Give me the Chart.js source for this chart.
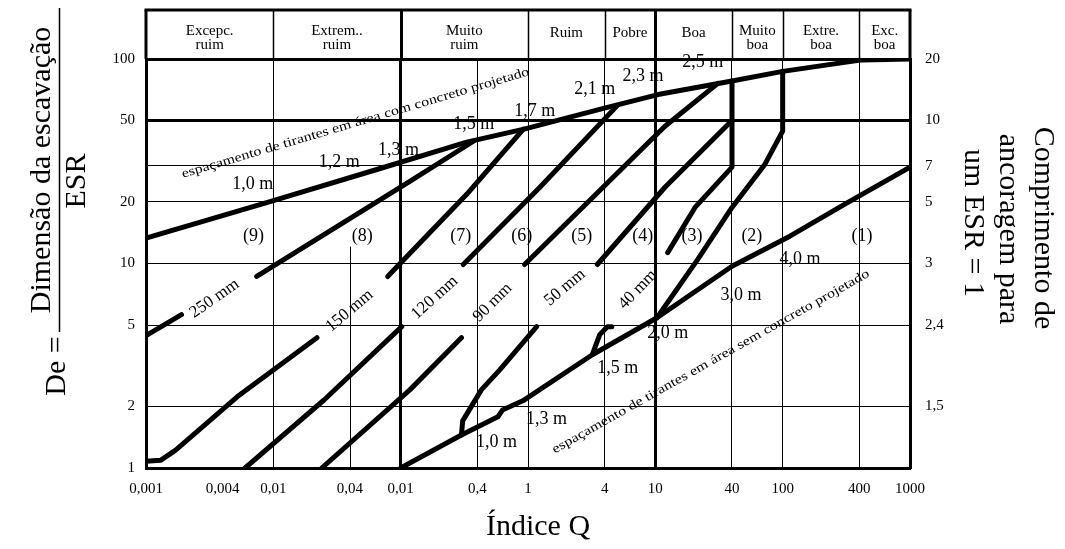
<!DOCTYPE html>
<html>
<head>
<meta charset="utf-8">
<script src="https://cdn.jsdelivr.net/npm/chart.js@4.4.1/dist/chart.umd.min.js"></script>
<style>
  html, body { margin: 0; padding: 0; background: #fff; }
  #wrap { width: 1065px; height: 549px; position: relative; }
</style>
</head>
<body>
<div id="wrap"><canvas id="chart"></canvas></div>
<script>
// Q-system support chart: Índice Q versus equivalent dimension De

const FONT = "'Liberation Serif', 'Times New Roman', serif";

// Axis ticks and labels
const qTicks = [0.001, 0.004, 0.01, 0.04, 0.1, 0.4, 1, 4, 10, 40, 100, 400, 1000];
const qTickLabels = ['0,001', '0,004', '0,01', '0,04', '0,01', '0,4', '1', '4', '10', '40', '100', '400', '1000'];
const deTicks = [1, 2, 5, 10, 20, 30, 50, 100];
const deTickLabels = ['1', '2', '5', '10', '20', '', '50', '100'];
const anchorTicks = [2, 5, 10, 20, 30, 50, 100];
const anchorLabels = ['1,5', '2,4', '3', '5', '7', '10', '20'];

// Rock mass classes along the Q axis
const classBounds = [0.001, 0.01, 0.1, 1, 4, 10, 40, 100, 400, 1000];
const classNames = [['Excepc.', 'ruim'], ['Extrem..', 'ruim'], ['Muito', 'ruim'], ['Ruim'], ['Pobre'],
                    ['Boa'], ['Muito', 'boa'], ['Extre.', 'boa'], ['Exc.', 'boa']];

// Bolt spacing limits [Q, De]
const boltLimitShotcrete = [[0.001, 13.3], [0.009, 19.9], [0.066, 28.9], [0.33, 39.2], [0.93, 45.4],
                            [4.2, 58], [10.5, 67], [40, 78], [100, 87], [420, 99], [1000, 100]];
const boltLimitNoShotcrete = [[0.1, 1], [0.3, 1.45], [0.58, 1.78], [0.63, 1.92], [0.91, 2.13], [3.2, 3.58],
                              [10.3, 5.43], [40, 9.7], [114, 13.6], [308, 19.5], [1000, 29.6]];

// Shotcrete thickness boundaries [Q, De], each drawn in two pieces around its label
const sc250Low = [[0.001, 4.44], [0.0019, 5.62]];
const sc250High = [[0.0074, 8.64], [0.118, 25.2], [0.37, 39.5]];
const sc150Low = [[0.001, 1.08], [0.0013, 1.09], [0.0017, 1.22], [0.0052, 2.23], [0.022, 4.34]];
const sc150High = [[0.079, 8.64], [0.33, 21.8], [0.92, 45.4]];
const sc120Low = [[0.006, 1], [0.025, 2.15], [0.102, 4.91]];
const sc120High = [[0.31, 9.89], [1.24, 23.6], [5.0, 59]];
const sc90Low = [[0.024, 1], [0.118, 2.41], [0.30, 4.34]];
const sc90High = [[0.94, 9.89], [11.9, 46.9], [31, 76]];
const sc50Low = [[0.30, 1.45], [0.307, 1.7], [0.43, 2.41], [0.60, 3.02], [1.17, 4.91]];
const sc50High = [[3.5, 9.89], [11.9, 23.6], [40, 50]];
const sc40Low = [[3.2, 3.58], [3.66, 4.49], [4.2, 4.91], [4.55, 4.91]];
const sc40High = [[10.3, 5.43], [21.6, 10.5], [40, 18.8], [72.6, 30.6], [100, 44.4], [100, 87]];
const zone3Limit = [[12.5, 11.3], [20.5, 18.8], [40, 29.6], [40, 78]];

const curves = [boltLimitShotcrete, boltLimitNoShotcrete, sc250Low, sc250High, sc150Low, sc150High,
                sc120Low, sc120High, sc90Low, sc90High, sc50Low, sc50High, sc40Low, sc40High, zone3Limit];

// Support categories (1)-(9)
const zoneNames = ['(9)', '(8)', '(7)', '(6)', '(5)', '(4)', '(3)', '(2)', '(1)'];
const zoneQ = [0.007, 0.05, 0.297, 0.893, 2.64, 7.98, 19.4, 57.3, 420];
const zoneDe = 13.6;

// Bolt length labels [Q, De]
const boltLengthsUpper = ['1,0 m', '1,2 m', '1,3 m', '1,5 m', '1,7 m', '2,1 m', '2,3 m', '2,5 m'];
const boltLengthsUpperAt = [[0.0069, 24.4], [0.033, 31.3], [0.096, 35.8], [0.375, 48], [1.13, 55.6],
                            [3.35, 71.3], [8.0, 82.6], [23.6, 96.7]];
const boltLengthsLower = ['1,0 m', '1,3 m', '1,5 m', '2,0 m', '3,0 m', '4,0 m'];
const boltLengthsLowerAt = [[0.567, 1.33], [1.40, 1.74], [5.07, 3.06], [12.5, 4.54], [47, 6.97], [137, 10.5]];

// Shotcrete thickness labels [Q, De, angle]
const shotcreteLabels = ['250 mm', '150 mm', '120 mm', '90 mm', '50 mm', '40 mm'];
const shotcreteAt = [[0.00345, 6.74, -35], [0.0397, 5.88, -40], [0.185, 6.81, -42],
                     [0.528, 6.44, -45], [1.95, 7.63, -40], [7.28, 7.46, -46]];

// Captions along the bolt spacing limits [Q, De, angle]
const spacingCaptions = ['espaçamento de tirantes em área com concreto projetado',
                         'espaçamento de tirantes em área sem concreto projetado'];
const spacingCaptionsAt = [[0.0442, 48.6, -16.5], [27.3, 3.31, -29.4]];

const gridPartialQ = 0.04;     // vertical line only drawn below De = 12
const gridPartialTop = 12.1;

function putText(ctx, txt, px, py, size, angle, fitWidth) {
  ctx.save();
  ctx.translate(px, py);
  ctx.rotate((angle || 0) * Math.PI / 180);
  ctx.font = size + 'px ' + FONT;
  ctx.fillStyle = '#000';
  ctx.textAlign = 'center';
  ctx.textBaseline = 'middle';
  if (fitWidth) {
    const w = ctx.measureText(txt).width;
    ctx.scale(fitWidth / w, 1);
  }
  ctx.fillText(txt, 0, 0);
  ctx.restore();
}

function line(ctx, x1, y1, x2, y2, w) {
  ctx.save();
  ctx.strokeStyle = '#000';
  ctx.lineWidth = w;
  ctx.beginPath();
  ctx.moveTo(x1, y1);
  ctx.lineTo(x2, y2);
  ctx.stroke();
  ctx.restore();
}

const decor = {
  id: 'qchartDecor',
  beforeDraw(chart) {
    const { ctx, width, height } = chart;
    ctx.save();
    ctx.fillStyle = '#fff';
    ctx.fillRect(0, 0, width, height);
    ctx.restore();
  },
  beforeDatasetsDraw(chart) {
    const { ctx, scales: { x, y } } = chart;
    const px = Math.round(x.getPixelForValue(gridPartialQ)) + 0.5;
    line(ctx, px, y.getPixelForValue(gridPartialTop), px, y.bottom, 1);
  },
  afterDraw(chart) {
    const { ctx, chartArea: ca, scales: { x, y } } = chart;
    const headTop = 10;

    // header frame and class dividers
    line(ctx, ca.left - 1.5, headTop, ca.right + 1.5, headTop, 3);
    line(ctx, ca.left, headTop, ca.left, ca.top, 3);
    line(ctx, ca.right, headTop, ca.right, ca.top, 3);
    for (let i = 1; i < classBounds.length - 1; i++) {
      const b = classBounds[i];
      const px = Math.round(x.getPixelForValue(b)) + 0.5;
      line(ctx, px, headTop, px, ca.top, (b === 0.1 || b === 10) ? 3 : 1.5);
    }
    for (let i = 0; i < classNames.length; i++) {
      const cx = (x.getPixelForValue(classBounds[i]) + x.getPixelForValue(classBounds[i + 1])) / 2;
      const rows = classNames[i];
      if (rows.length === 1) {
        putText(ctx, rows[0], cx, 33, 15);
      } else {
        putText(ctx, rows[0], cx, 31, 15);
        putText(ctx, rows[1], cx, 45, 15);
      }
    }

    // zone numbers
    zoneNames.forEach((t, i) => putText(ctx, t, x.getPixelForValue(zoneQ[i]), y.getPixelForValue(zoneDe), 18));

    // bolt lengths
    boltLengthsUpper.forEach((t, i) => {
      const [q, d] = boltLengthsUpperAt[i];
      putText(ctx, t, x.getPixelForValue(q), y.getPixelForValue(d), 18);
    });
    boltLengthsLower.forEach((t, i) => {
      const [q, d] = boltLengthsLowerAt[i];
      putText(ctx, t, x.getPixelForValue(q), y.getPixelForValue(d), 18);
    });

    // shotcrete thickness
    shotcreteLabels.forEach((t, i) => {
      const [q, d, a] = shotcreteAt[i];
      putText(ctx, t, x.getPixelForValue(q), y.getPixelForValue(d), 17, a);
    });

    // captions along the limits
    spacingCaptions.forEach((t, i) => {
      const [q, d, a] = spacingCaptionsAt[i];
      putText(ctx, t, x.getPixelForValue(q), y.getPixelForValue(d), 13, a, 362);
    });

    // axis titles
    putText(ctx, 'Índice Q', 538, 527, 30);
    putText(ctx, 'De =', 57, 366, 30, -90);
    putText(ctx, 'Dimensão da escavação', 42, 170, 30, -90);
    line(ctx, 59.5, 8, 59.5, 332, 1.5);
    putText(ctx, 'ESR', 77, 181, 30, -90);
    putText(ctx, 'Comprimento de', 1043, 228, 30, 90);
    putText(ctx, 'ancoragem para', 1008, 229, 30, 90);
    putText(ctx, 'um ESR = 1', 973, 223, 30, 90);
  }
};

const clear = 'rgba(0,0,0,0)';
const tickFont = { family: FONT, size: 15 };

new Chart(document.getElementById('chart'), {
  type: 'scatter',
  data: {
    datasets: curves.map(c => ({
      data: c.map(([q, d]) => ({ x: q, y: d })),
      showLine: true,
      borderColor: '#000',
      backgroundColor: '#000',
      borderWidth: 5,
      pointRadius: 0,
      tension: 0,
      borderCapStyle: 'round',
      borderJoinStyle: 'round',
      fill: false
    }))
  },
  options: {
    responsive: true,
    maintainAspectRatio: false,
    animation: false,
    layout: { padding: { top: 59, left: 0, right: 0, bottom: 0 } },
    plugins: { legend: { display: false }, tooltip: { enabled: false } },
    scales: {
      x: {
        type: 'logarithmic',
        position: 'bottom',
        min: 0.001,
        max: 1000,
        afterBuildTicks: s => { s.ticks = qTicks.map(v => ({ value: v })); },
        afterFit: s => { s.height = 81; },
        ticks: {
          autoSkip: false, maxRotation: 0, minRotation: 0, padding: 12,
          color: '#000', font: tickFont,
          callback: (v, i) => qTickLabels[i]
        },
        grid: {
          drawTicks: false,
          color: c => {
            const v = c.tick && c.tick.value;
            return (v === 0.001 || v === 0.004 || v === 0.04 || v === 1000) ? clear : '#000';
          },
          lineWidth: c => {
            const v = c.tick && c.tick.value;
            return (v === 0.1 || v === 10) ? 3 : 1;
          }
        },
        border: { display: true, color: '#000', width: 3 }
      },
      y: {
        type: 'logarithmic',
        position: 'left',
        min: 1,
        max: 100,
        afterBuildTicks: s => { s.ticks = deTicks.map(v => ({ value: v })); },
        afterFit: s => { s.width = 146; },
        ticks: {
          autoSkip: false, padding: 11, color: '#000', font: tickFont,
          callback: (v, i) => deTickLabels[i]
        },
        grid: {
          drawTicks: false,
          color: c => (c.tick && c.tick.value === 1) ? clear : '#000',
          lineWidth: c => {
            const v = c.tick && c.tick.value;
            return (v === 50 || v === 100) ? 3 : 1;
          }
        },
        border: { display: true, color: '#000', width: 3 }
      },
      y2: {
        type: 'logarithmic',
        position: 'right',
        min: 1,
        max: 100,
        afterBuildTicks: s => { s.ticks = anchorTicks.map(v => ({ value: v })); },
        afterFit: s => { s.width = 155; },
        ticks: {
          autoSkip: false, padding: 15, color: '#000', font: tickFont,
          callback: (v, i) => anchorLabels[i]
        },
        grid: { display: false, drawTicks: false },
        border: { display: true, color: '#000', width: 3 }
      }
    }
  },
  plugins: [decor]
});
</script>
</body>
</html>
